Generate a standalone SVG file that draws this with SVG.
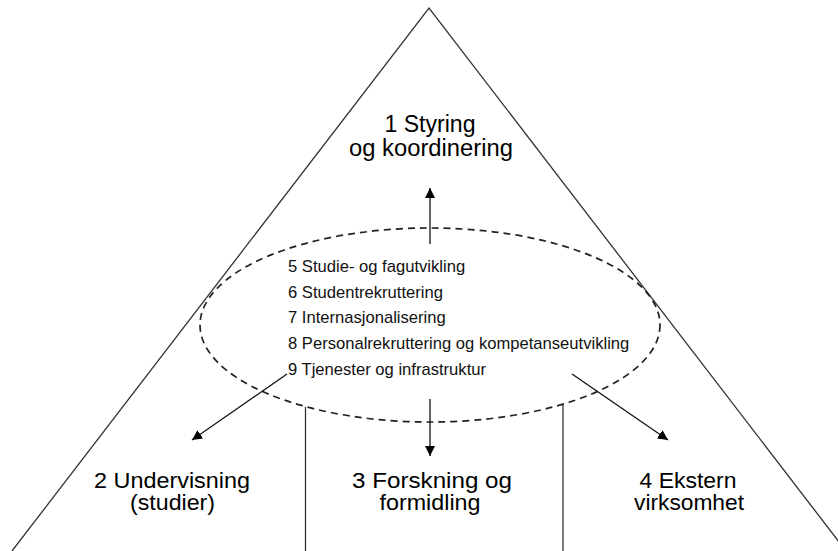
<svg xmlns="http://www.w3.org/2000/svg" width="838" height="551" viewBox="0 0 838 551">
  <style>
    .edge { fill: none; stroke: #333; stroke-width: 1.3; }
    .conn { fill: none; stroke: #111; stroke-width: 1.3; }
    .ring { fill: none; stroke: #222; stroke-width: 1.7; stroke-dasharray: 7 5; }
    .big { font-family: "Liberation Sans", Arial, sans-serif; font-size: 23px; fill: #000; text-anchor: middle; }
    .low { font-family: "Liberation Sans", Arial, sans-serif; font-size: 21.5px; fill: #000; text-anchor: middle; }
    .small { font-family: "Liberation Sans", Arial, sans-serif; font-size: 16.6px; fill: #111; }
  </style>
  <defs>
    <marker id="arrow" viewBox="0 0 10 10" refX="10" refY="5" markerWidth="10" markerHeight="10" markerUnits="userSpaceOnUse" orient="auto">
      <path d="M0,0 L10,5 L0,10 z" fill="#000"/>
    </marker>
  </defs>
  <rect width="838" height="551" fill="#fff"/>

  <g id="pyramid">
    <polyline class="edge" points="12,551 429,8 846,551"/>
    <line class="edge" x1="305.5" y1="407" x2="305.5" y2="551"/>
    <line class="edge" x1="563" y1="405" x2="563" y2="551"/>
  </g>

  <g id="node1">
    <text class="big" x="430" y="132" textLength="91" lengthAdjust="spacingAndGlyphs">1 Styring</text>
    <text class="big" x="431" y="156" textLength="164" lengthAdjust="spacingAndGlyphs">og koordinering</text>
  </g>

  <g id="core">
    <ellipse class="ring" cx="430" cy="325" rx="230" ry="97"/>
    <text class="small" x="288" y="272">5 Studie- og fagutvikling</text>
    <text class="small" x="288" y="297.5">6 Studentrekruttering</text>
    <text class="small" x="288" y="323">7 Internasjonalisering</text>
    <text class="small" x="288" y="349">8 Personalrekruttering og kompetanseutvikling</text>
    <text class="small" x="288" y="374.5">9 Tjenester og infrastruktur</text>
  </g>

  <g id="node2">
    <text class="low" x="172" y="488" textLength="156" lengthAdjust="spacingAndGlyphs">2 Undervisning</text>
    <text class="low" x="172.5" y="510" textLength="85" lengthAdjust="spacingAndGlyphs">(studier)</text>
  </g>

  <g id="node3">
    <text class="low" x="432" y="488" textLength="160" lengthAdjust="spacingAndGlyphs">3 Forskning og</text>
    <text class="low" x="430" y="510" textLength="101" lengthAdjust="spacingAndGlyphs">formidling</text>
  </g>

  <g id="node4">
    <text class="low" x="688" y="488" textLength="97" lengthAdjust="spacingAndGlyphs">4 Ekstern</text>
    <text class="low" x="689" y="510" textLength="110" lengthAdjust="spacingAndGlyphs">virksomhet</text>
  </g>

  <g id="connectors">
    <line class="conn" x1="430" y1="244" x2="430" y2="188" marker-end="url(#arrow)"/>
    <line class="conn" x1="430" y1="399" x2="430" y2="456" marker-end="url(#arrow)"/>
    <line class="conn" x1="287" y1="374" x2="192" y2="440" marker-end="url(#arrow)"/>
    <line class="conn" x1="572" y1="374" x2="668" y2="440" marker-end="url(#arrow)"/>
  </g>
</svg>
